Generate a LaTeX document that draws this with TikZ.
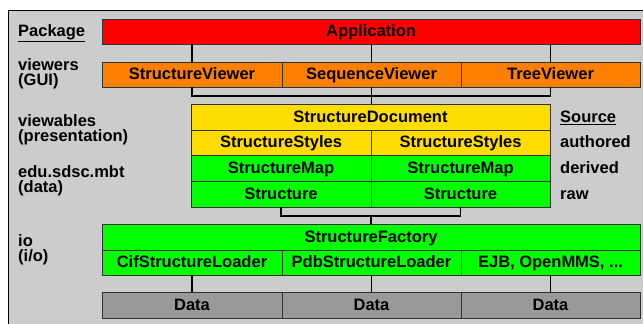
\documentclass[tikz,border=0pt]{standalone}
\usepackage{fontspec}
\setmainfont{Liberation Sans}
\begin{document}
\begin{tikzpicture}[x=1pt,y=-1pt,
  every node/.style={font=\fontsize{16.5}{15}\selectfont\bfseries},
  cell/.style={draw=black!80, line width=0.8pt, fill=#1, rectangle, inner sep=0pt, anchor=center, text height=12pt, text depth=1.6pt},
  lbl/.style={anchor=west, align=left, inner sep=0pt},
  one/.style={text height=12pt, text depth=1.6pt},
  conn/.style={draw=black, line width=1.6pt}]
\useasboundingbox (0,0) rectangle (643,324);
\fill[black!20] (8,10) rectangle (643,324);
\draw[line width=1pt] (8,324) -- (8,10) -- (643,10);
\definecolor{dataGray}{HTML}{999999}
\definecolor{ylw}{HTML}{FFDD00}
\definecolor{org}{HTML}{FF8000}
% Application
\node[cell=red, minimum width=538pt, minimum height=25pt] (app) at (371,31.5) {Application};
% viewers
\node[cell=org, minimum width=180pt, minimum height=25pt] (sv) at (192,74.5) {StructureViewer};
\node[cell=org, minimum width=179pt, minimum height=25pt] (qv) at (371.5,74.5) {SequenceViewer};
\node[cell=org, minimum width=179pt, minimum height=25pt] (tv) at (550.5,74.5) {TreeViewer};
% viewables / data
\node[cell=ylw, minimum width=359pt, minimum height=26pt] (doc) at (370.5,117) {StructureDocument};
\node[cell=ylw, minimum width=180pt, minimum height=25pt] (ss1) at (281,142.5) {StructureStyles};
\node[cell=ylw, minimum width=179pt, minimum height=25pt] (ss2) at (460.5,142.5) {StructureStyles};
\node[cell=green, minimum width=180pt, minimum height=26pt] (sm1) at (281,168) {StructureMap};
\node[cell=green, minimum width=179pt, minimum height=26pt] (sm2) at (460.5,168) {StructureMap};
\node[cell=green, minimum width=180pt, minimum height=26pt] (st1) at (281,194) {Structure};
\node[cell=green, minimum width=179pt, minimum height=26pt] (st2) at (460.5,194) {Structure};
% io
\node[cell=green, minimum width=538pt, minimum height=26pt] (fac) at (371,237) {StructureFactory};
\node[cell=green, minimum width=180pt, minimum height=25pt] (cif) at (192,262.5) {CifStructureLoader};
\node[cell=green, minimum width=179pt, minimum height=25pt] (pdb) at (371.5,262.5) {PdbStructureLoader};
\node[cell=green, minimum width=179pt, minimum height=25pt] (ejb) at (550.5,262.5) {EJB, OpenMMS, ...};
% data
\node[cell=dataGray, minimum width=180pt, minimum height=26pt] (d1) at (192,305) {Data};
\node[cell=dataGray, minimum width=179pt, minimum height=26pt] (d2) at (371.5,305) {Data};
\node[cell=dataGray, minimum width=179pt, minimum height=26pt] (d3) at (550.5,305) {Data};
% connectors
\coordinate (bus1) at (371.5,96);
\coordinate (bus2) at (371,216);
\draw[conn] (sv.north |- app.south) -- (sv.north);
\draw[conn] (qv.north |- app.south) -- (qv.north);
\draw[conn] (tv.north |- app.south) -- (tv.north);
\draw[conn] (sv.south) |- (bus1) -| (tv.south);
\draw[conn] (qv.south) -- (qv.south |- doc.north);
\draw[conn] (st1.south) |- (bus2) -| (st2.south);
\draw[conn] (bus2) -- (bus2 |- fac.north);
\draw[conn] (cif.south) -- (d1.north);
\draw[conn] (pdb.south) -- (d2.north);
\draw[conn] (ejb.south) -- (d3.north);
% left labels
\node[lbl, one] (lpkg) at (18,31.5) {\underline{Package}};
\node[lbl] (lview) at (18,73.5) {viewers\\(GUI)};
\node[lbl] (lvwb) at (18,129.5) {viewables\\(presentation)};
\node[lbl] (ldata) at (18,180.5) {edu.sdsc.mbt\\(data)};
\node[lbl] (lio) at (18,249.5) {io\\(i/o)};
% right labels
\node[lbl, one] (src) at (560,117) {\underline{Source}};
\node[lbl, one] (auth) at (560,142.5) {authored};
\node[lbl, one] (der) at (560,168) {derived};
\node[lbl, one] (raw) at (560,194) {raw};
\end{tikzpicture}
\end{document}
